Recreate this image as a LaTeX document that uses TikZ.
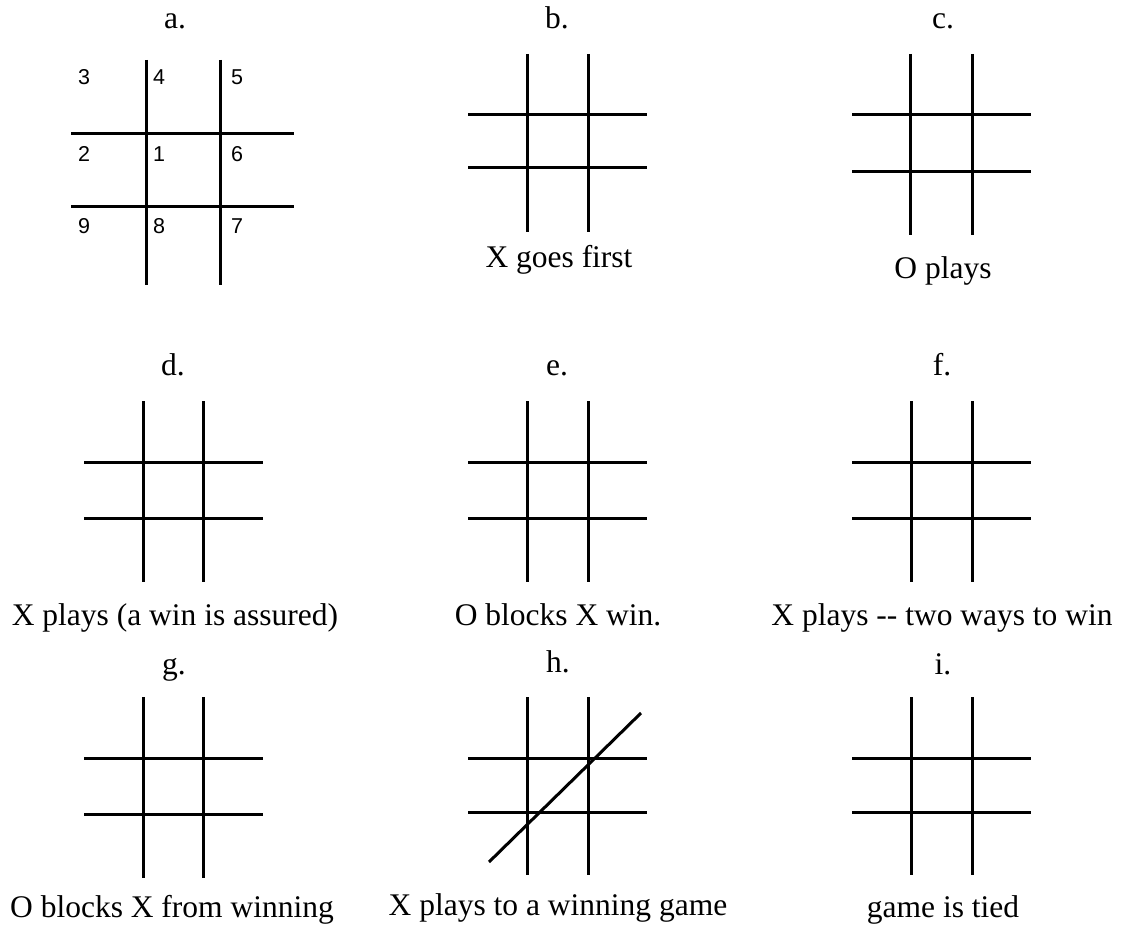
\documentclass[tikz,border=0pt]{standalone}
\usepackage{fontspec}
\setmainfont{Liberation Serif}
\newfontfamily\numfont{Liberation Sans}
\tikzset{
  gridline/.style={line width=3pt, line cap=butt},
  lbl/.style={font=\fontsize{31.5}{36}\selectfont, anchor=base, inner sep=0pt},
  num/.style={font=\numfont\fontsize{21.5}{25}\selectfont, anchor=base west, inner sep=0pt},
}
% #1,#2 x of verticals; #3,#4 y range of verticals; #5,#6 y of horizontals; #7,#8 x range of horizontals
\newcommand\tttgrid[8]{%
  \draw[gridline] (#1,#3) -- (#1,#4);
  \draw[gridline] (#2,#3) -- (#2,#4);
  \draw[gridline] (#7,#5) -- (#8,#5);
  \draw[gridline] (#7,#6) -- (#8,#6);
}
\begin{document}
\begin{tikzpicture}[x=1pt,y=-1pt]
\useasboundingbox (0,0) rectangle (1123,928);
\fill[white] (0,0) rectangle (1123,928);
% grids
\tttgrid{146}{220}{60}{285}{134}{206}{71}{294}
\tttgrid{527}{588}{54}{232}{115}{168}{468}{647}
\tttgrid{910}{972}{54}{235}{115}{172}{852}{1031}
\tttgrid{143}{203}{401}{582}{462}{518}{84}{263}
\tttgrid{527}{588}{401}{582}{462}{518}{468}{647}
\tttgrid{911}{972}{401}{582}{462}{518}{852}{1031}
\tttgrid{143}{203}{697}{878}{758}{814}{84}{263}
\tttgrid{527}{588}{697}{875}{758}{812}{468}{647}
\tttgrid{911}{972}{697}{875}{758}{812}{852}{1031}
% winning line in h
\coordinate (winA) at (489,862);
\coordinate (winB) at (641,713);
\draw[gridline] (winA) -- (winB);
% numbers in grid a
\node[num] (n3) at (78,85) {3};
\node[num] (n4) at (153,85) {4};
\node[num] (n5) at (231,85) {5};
\node[num] (n2) at (78,161) {2};
\node[num] (n1) at (153,161) {1};
\node[num] (n6) at (231,161) {6};
\node[num] (n9) at (78,233) {9};
\node[num] (n8) at (153,233) {8};
\node[num] (n7) at (231,233) {7};
% letters
\node[lbl] (la) at (175,29) {a.};
\node[lbl] (lb) at (557,29) {b.};
\node[lbl] (lc) at (943,29) {c.};
\node[lbl] (ld) at (173,375) {d.};
\node[lbl] (le) at (557,375) {e.};
\node[lbl] (lf) at (942,375) {f.};
\node[lbl] (lg) at (174,674) {g.};
\node[lbl] (lh) at (558,672) {h.};
\node[lbl] (li) at (943,674) {i.};
% captions
\node[lbl] (cb) at (559,267) {X goes first};
\node[lbl] (cc) at (943,278) {O plays};
\node[lbl] (cd) at (175,625) {X plays (a win is assured)};
\node[lbl] (ce) at (558,625) {O blocks X win.};
\node[lbl] (cf) at (942,625) {X plays -{}- two ways to win};
\node[lbl] (cg) at (172,917) {O blocks X from winning};
\node[lbl] (ch) at (558,915) {X plays to a winning game};
\node[lbl] (ci) at (943,917) {game is tied};
\end{tikzpicture}
\end{document}
